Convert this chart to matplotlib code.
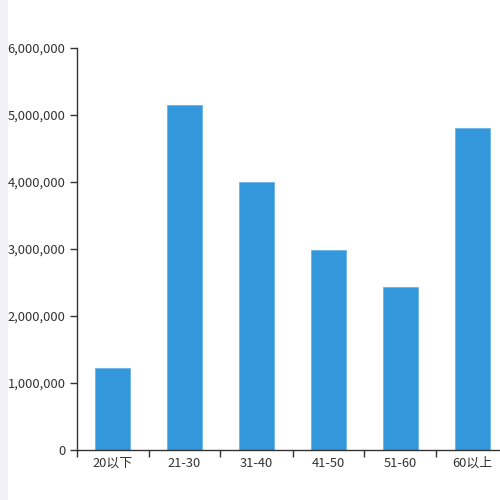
import matplotlib
matplotlib.use('Agg')
import matplotlib.pyplot as plt
from matplotlib.patches import Rectangle
from matplotlib.ticker import FuncFormatter, MultipleLocator

# Chart data
categories = ['20以下', '21-30', '31-40', '41-50', '51-60', '60以上']
values = [1225000, 5150000, 4000000, 2990000, 2430000, 4810000]

plt.rcParams['font.family'] = ['Noto Sans CJK SC', 'DejaVu Sans']

fig = plt.figure(figsize=(5, 5), dpi=100)
fig.patch.set_facecolor('white')

# light strip on the left edge
fig.patches.append(Rectangle((0, 0), 8 / 500, 1, transform=fig.transFigure,
                             facecolor='#F1F1F7', edgecolor='none', zorder=0))

# axes extend past the right edge of the figure (clipped like the original)
ax = fig.add_axes([76.5 / 500, 50 / 500, 432 / 500, 402 / 500])

x = list(range(len(categories)))
ax.bar(x, values, width=0.49, color='#3398DB', edgecolor='#6AB3E6', linewidth=0.6, zorder=2)

ax.set_xlim(-0.5, len(categories) - 0.5)
ax.set_ylim(0, 6000000)
ax.yaxis.set_major_locator(MultipleLocator(1000000))
ax.yaxis.set_major_formatter(FuncFormatter(lambda v, p: f'{int(v):,}'))

# category boundary ticks, labels in the middle
ax.set_xticks([i - 0.5 for i in range(len(categories) + 1)])
ax.set_xticklabels([])
ax.set_xticks(x, minor=True)
ax.set_xticklabels(categories, minor=True)
ax.tick_params(axis='x', which='major', length=5, width=1, color='#333333')
ax.tick_params(axis='x', which='minor', length=0, pad=5, labelsize=9.3, labelcolor='#333333')
ax.tick_params(axis='y', length=5, width=1, color='#333333', pad=3,
               labelsize=9.3, labelcolor='#333333')

for side in ['top', 'right']:
    ax.spines[side].set_visible(False)
for side in ['left', 'bottom']:
    ax.spines[side].set_color('#333333')
    ax.spines[side].set_linewidth(1)

ax.set_facecolor('white')

plt.savefig('out.png', dpi=100)
plt.close()
